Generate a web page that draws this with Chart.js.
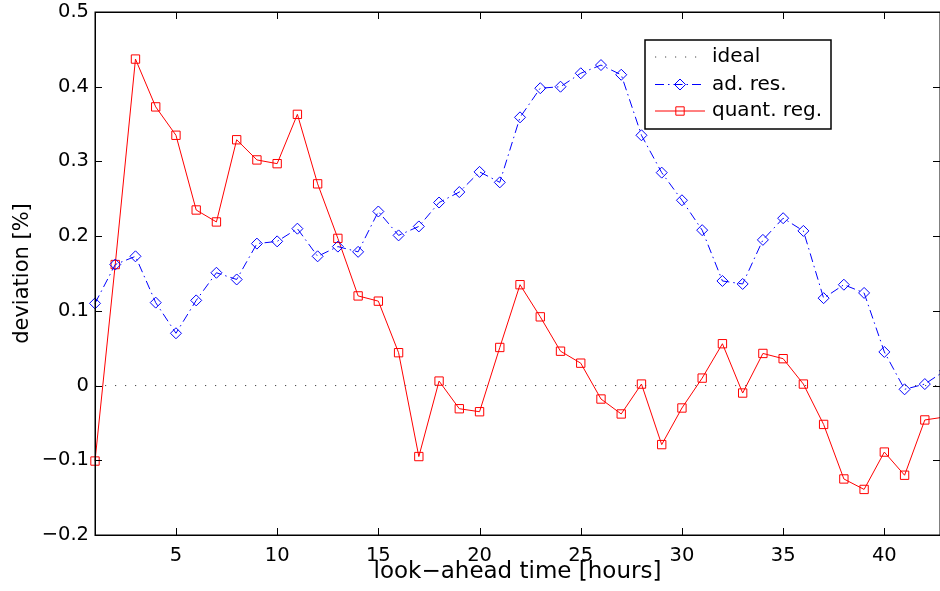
<!DOCTYPE html>
<html>
<head>
<meta charset="utf-8">
<script src="https://cdn.jsdelivr.net/npm/chart.js@4.4.1/dist/chart.umd.min.js"></script>
<style>
  html, body { margin: 0; padding: 0; background: #fff; }
  #wrap { width: 940px; height: 591px; position: relative; }
</style>
</head>
<body>
<div id="wrap"><canvas id="c" width="940" height="591"></canvas></div>
<script>
// ---- data ----
const hours = [1,2,3,4,5,6,7,8,9,10,11,12,13,14,15,16,17,18,19,20,21,22,23,24,25,26,27,28,29,30,31,32,33,34,35,36,37,38,39,40,41,42,43];
const adRes = [0.110,0.162,0.173,0.111,0.070,0.114,0.151,0.142,0.190,0.193,0.210,0.173,0.186,0.179,0.233,0.201,0.213,0.245,0.259,0.286,0.272,0.359,0.398,0.400,0.418,0.429,0.416,0.335,0.285,0.248,0.208,0.140,0.136,0.195,0.224,0.207,0.117,0.135,0.124,0.045,-0.005,0.002,0.020];
const quantReg = [-0.101,0.162,0.437,0.373,0.335,0.235,0.219,0.329,0.302,0.297,0.363,0.270,0.197,0.120,0.113,0.044,-0.095,0.006,-0.031,-0.035,0.051,0.135,0.092,0.046,0.030,-0.018,-0.038,0.002,-0.079,-0.030,0.010,0.056,-0.010,0.043,0.036,0.002,-0.052,-0.125,-0.139,-0.089,-0.120,-0.046,-0.042];
const idealX = [1, 43];
const ideal = [0, 0];
const xTicks = [5,10,15,20,25,30,35,40];
const yTicks = [-0.2,-0.1,0,0.1,0.2,0.3,0.4,0.5];
const yTickLabels = ['\u22120.2','\u22120.1','0','0.1','0.2','0.3','0.4','0.5'];
const seriesNames = ['ideal','ad. res.','quant. reg.'];
const xTitle = 'look\u2212ahead time [hours]';
const yTitle = 'deviation [%]';

const FONT = "'DejaVu Sans', 'Liberation Sans', sans-serif";

const toXY = (xs, ys) => xs.map((x, i) => ({x: x, y: ys[i]}));

// inward ticks + frame
const framePlugin = {
  id: 'frame',
  afterDatasetsDraw(chart) {
    const {ctx, chartArea: a, scales} = chart;
    ctx.save();
    ctx.strokeStyle = '#000';
    ctx.lineWidth = 1;
    const L = 7;
    ctx.beginPath();
    scales.x.ticks.forEach(t => {
      const px = Math.round(scales.x.getPixelForValue(t.value)) + 0.5;
      ctx.moveTo(px, a.bottom); ctx.lineTo(px, a.bottom - L);
      ctx.moveTo(px, a.top); ctx.lineTo(px, a.top + L);
    });
    scales.y.ticks.forEach(t => {
      const py = Math.round(scales.y.getPixelForValue(t.value)) + 0.5;
      ctx.moveTo(a.left, py); ctx.lineTo(a.left + L, py);
      ctx.moveTo(a.right, py); ctx.lineTo(a.right - L, py);
    });
    ctx.stroke();
    ctx.lineWidth = 1.5;
    ctx.strokeRect(Math.round(a.left) + 0.25, Math.round(a.top) + 0.25, a.right - a.left, a.bottom - a.top);
    ctx.restore();
  }
};

// legend box (MATLAB style)
const legendPlugin = {
  id: 'matLegend',
  afterDraw(chart) {
    const ctx = chart.ctx;
    const box = {x: 645, y: 40, w: 186, h: 89};
    ctx.save();
    ctx.fillStyle = '#fff';
    ctx.fillRect(box.x, box.y, box.w, box.h);
    ctx.strokeStyle = '#000';
    ctx.lineWidth = 1.5;
    ctx.strokeRect(box.x, box.y, box.w, box.h);
    const rows = [57, 84.5, 111];
    const x0 = 655, x1 = 705, xm = 680, tx = 712;
    chart.data.datasets.forEach((ds, i) => {
      const y = rows[i];
      ctx.save();
      ctx.strokeStyle = ds.borderColor;
      ctx.lineWidth = ds.borderWidth;
      ctx.setLineDash(ds.borderDash || []);
      ctx.beginPath();
      ctx.moveTo(x0, y); ctx.lineTo(x1, y);
      ctx.stroke();
      ctx.setLineDash([]);
      if (ds.pointRadius > 0) {
        ctx.strokeStyle = ds.borderColor;
        ctx.lineWidth = 1;
        ctx.beginPath();
        const r = ds.pointRadius;
        if (ds.pointStyle === 'rectRot') {
          ctx.moveTo(xm - r, y); ctx.lineTo(xm, y - r); ctx.lineTo(xm + r, y); ctx.lineTo(xm, y + r); ctx.closePath();
        } else {
          const s = Math.SQRT1_2 * r;
          ctx.rect(xm - s, y - s, 2 * s, 2 * s);
        }
        ctx.stroke();
      }
      ctx.restore();
      ctx.fillStyle = '#000';
      ctx.font = '20px ' + FONT;
      ctx.textBaseline = 'middle';
      ctx.textAlign = 'left';
      ctx.fillText(ds.label, tx, y);
    });
    ctx.restore();
  }
};

const zeroPad = (s) => { s.paddingLeft = 0; s.paddingRight = 0; s.paddingTop = 0; s.paddingBottom = 0; };

new Chart(document.getElementById('c'), {
  type: 'line',
  data: {
    datasets: [
      {
        label: seriesNames[0],
        data: toXY(idealX, ideal),
        borderColor: '#444',
        borderWidth: 1,
        borderDash: [1.2, 8.8],
        pointRadius: 0,
        fill: false,
        clip: 10
      },
      {
        label: seriesNames[1],
        data: toXY(hours, adRes),
        borderColor: '#0000ff',
        borderWidth: 1,
        borderDash: [9, 4, 1.5, 4],
        pointStyle: 'rectRot',
        pointRadius: 5.5,
        pointHoverRadius: 5.5,
        pointBorderWidth: 1,
        pointBackgroundColor: 'rgba(0,0,0,0)',
        pointBorderColor: '#0000ff',
        fill: false,
        clip: 10
      },
      {
        label: seriesNames[2],
        data: toXY(hours, quantReg),
        borderColor: '#ff0000',
        borderWidth: 1,
        pointStyle: 'rect',
        pointRadius: 5.9,
        pointHoverRadius: 5.9,
        pointBorderWidth: 1,
        pointBackgroundColor: 'rgba(0,0,0,0)',
        pointBorderColor: '#ff0000',
        fill: false,
        clip: 10
      }
    ]
  },
  options: {
    responsive: false,
    animation: false,
    devicePixelRatio: 1,
    layout: { autoPadding: false, padding: { top: 12, right: 0, left: 0, bottom: 0 } },
    plugins: { legend: { display: false }, tooltip: { enabled: false } },
    elements: { line: { tension: 0 } },
    scales: {
      x: {
        type: 'linear',
        min: 1,
        max: 42.75,
        grid: { display: false, drawTicks: false },
        border: { display: false },
        afterBuildTicks: (s) => { s.ticks = xTicks.map(v => ({value: v})); },
        afterFit: (s) => { s.height = 56; zeroPad(s); },
        ticks: {
          color: '#000',
          font: { family: FONT, size: 19.5 },
          padding: 9,
          maxRotation: 0,
          autoSkip: false,
          callback: (v) => String(v)
        },
        title: {
          display: true,
          text: xTitle,
          color: '#000',
          font: { family: FONT, size: 23 },
          padding: { top: 0, bottom: 5 }
        }
      },
      y: {
        type: 'linear',
        min: -0.2,
        max: 0.5,
        grid: { display: false, drawTicks: false },
        border: { display: false },
        afterBuildTicks: (s) => { s.ticks = yTicks.map(v => ({value: v})); },
        afterFit: (s) => { s.width = 95; zeroPad(s); },
        ticks: {
          color: '#000',
          font: { family: FONT, size: 19.5 },
          padding: 6,
          autoSkip: false,
          callback: (v) => {
            const i = yTicks.findIndex(t => Math.abs(t - v) < 1e-9);
            return i >= 0 ? yTickLabels[i] : '';
          }
        },
        title: {
          display: true,
          text: yTitle,
          color: '#000',
          font: { family: FONT, size: 21 },
          padding: { top: 10, bottom: 0 }
        }
      }
    }
  },
  plugins: [framePlugin, legendPlugin]
});
</script>
</body>
</html>
